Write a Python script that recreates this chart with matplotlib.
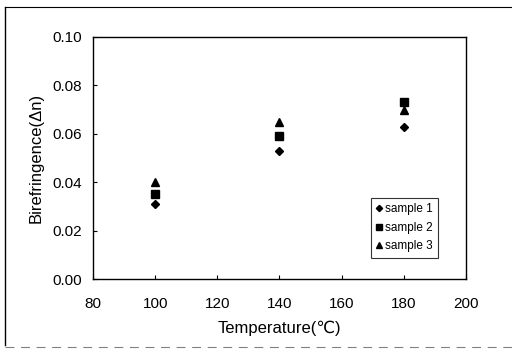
import matplotlib
matplotlib.use("Agg")
import matplotlib.pyplot as plt
from matplotlib.lines import Line2D

plt.rcParams["font.family"] = ["Liberation Sans", "DejaVu Sans"]

temperature = [100, 140, 180]
sample1 = [0.031, 0.053, 0.063]
sample2 = [0.035, 0.059, 0.073]
sample3 = [0.040, 0.065, 0.070]
labels = ["sample 1", "sample 2", "sample 3"]

fig = plt.figure(figsize=(5.12, 3.51), dpi=100)
ax = fig.add_axes([0.182, 0.205, 0.7276, 0.6896])

ax.plot(temperature, sample1, "D", color="black", markersize=4, linestyle="none", label=labels[0])
ax.plot(temperature, sample2, "s", color="black", markersize=5.5, linestyle="none", label=labels[1])
ax.plot(temperature, sample3, "^", color="black", markersize=5.5, linestyle="none", label=labels[2])

ax.set_xlim(80, 200)
ax.set_ylim(0, 0.10)
ax.set_xticks([80, 100, 120, 140, 160, 180, 200])
ax.set_yticks([0.00, 0.02, 0.04, 0.06, 0.08, 0.10])
ax.yaxis.set_major_formatter(matplotlib.ticker.FormatStrFormatter("%.2f"))
ax.tick_params(direction="in", length=3, width=0.8, labelsize=11)
ax.tick_params(axis="y", pad=8)
ax.tick_params(axis="x", pad=13)
for s in ax.spines.values():
    s.set_linewidth(1.0)

ax.set_xlabel("Temperature(℃)", fontsize=12, labelpad=7)
ax.set_ylabel("Birefringence(Δn)", fontsize=12, labelpad=6)

leg = ax.legend(loc="upper left", bbox_to_anchor=(0.746, 0.335), fontsize=8.5,
                frameon=True, fancybox=False, edgecolor="black",
                handlelength=0.5, handletextpad=0.25, borderpad=0.45,
                labelspacing=0.55, borderaxespad=0, markerscale=0.8)
leg.get_frame().set_linewidth(0.8)

# outer frame around the figure
fig.add_artist(Line2D([5 / 512, 5 / 512], [1 - 7 / 351, 1 - 345 / 351],
                      transform=fig.transFigure, color="black", linewidth=1.0))
fig.add_artist(Line2D([5 / 512, 1.0], [1 - 7 / 351, 1 - 7 / 351],
                      transform=fig.transFigure, color="black", linewidth=0.8))
fig.add_artist(Line2D([5 / 512, 1.0], [1 - 347 / 351, 1 - 347 / 351],
                      transform=fig.transFigure, color="gray", linewidth=0.8,
                      linestyle=(0, (8, 6))))

fig.savefig("out.png", dpi=100)
